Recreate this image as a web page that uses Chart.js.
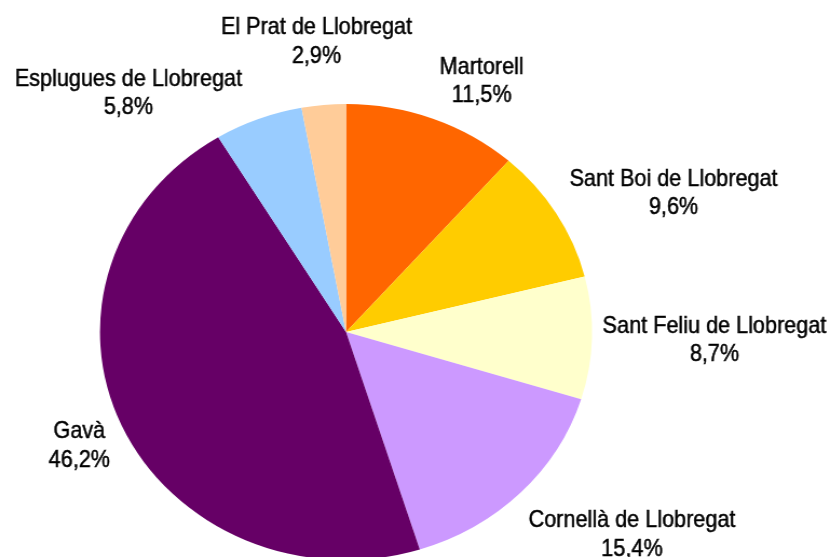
<!DOCTYPE html>
<html>
<head>
<meta charset="utf-8">
<script src="https://cdn.jsdelivr.net/npm/chart.js@4/dist/chart.umd.min.js"></script>
<style>
  html, body { margin: 0; padding: 0; background: #fff; overflow: hidden; }
  #wrap { width: 769px; height: 580px; transform: scaleX(1.0793); transform-origin: 0 0; }
</style>
</head>
<body>
<div id="wrap"><canvas id="chart" width="769" height="580"></canvas></div>
<script>
  const districts = [
    "Martorell",
    "Sant Boi de Llobregat",
    "Sant Feliu de Llobregat",
    "Cornellà de Llobregat",
    "Gavà",
    "Esplugues de Llobregat",
    "El Prat de Llobregat"
  ];
  const shares = [11.5, 9.6, 8.7, 15.4, 46.2, 5.8, 2.9];
  const sliceColors = ["#ff6600", "#ffcc00", "#ffffcc", "#cc99ff", "#660066", "#99ccff", "#ffcc99"];

  // label layout: nudges (screen px) on top of the outside-end placement
  const labelNudge = [[16, -9], [6, 5], [2, -1], [2, 12], [-4, -4], [-46, 3], [11, -34]];
  const STRETCH = 830 / 769;
  const NARROW = 0.835; // no narrow font installed, squeeze the regular one
  const GAP = 8;
  const LINE = 28.5;
  const CAP = 16.8;

  function formatShare(v) {
    return v.toFixed(1).replace(".", ",") + "%";
  }

  function drawNarrow(ctx, text, x, y) {
    ctx.save();
    ctx.translate(x, y);
    ctx.scale(NARROW, 1);
    ctx.strokeText(text, 0, 0);
    ctx.fillText(text, 0, 0);
    ctx.restore();
  }

  const outsideLabels = {
    id: "outsideLabels",
    afterDatasetsDraw(chart) {
      const ctx = chart.ctx;
      const meta = chart.getDatasetMeta(0);
      ctx.save();
      ctx.font = '24px "Liberation Sans", Arial, sans-serif';
      ctx.fillStyle = "#000";
      ctx.strokeStyle = "#000";
      ctx.lineWidth = 0.5;
      ctx.textAlign = "center";
      ctx.textBaseline = "alphabetic";
      meta.data.forEach((arc, i) => {
        const p = arc.getProps(["x", "y", "startAngle", "endAngle", "outerRadius"], true);
        const a = (p.startAngle + p.endAngle) / 2;
        const cos = Math.cos(a);
        const sin = Math.sin(a);
        const ax = p.x + (p.outerRadius + GAP) * cos;
        const ay = p.y + (p.outerRadius + GAP) * sin;
        const lines = [districts[i], formatShare(shares[i])];
        const hw = Math.max(...lines.map((t) => ctx.measureText(t).width)) * NARROW / 2;
        const hh = LINE / 2 + CAP / 2;
        const fx = Math.max(-1, Math.min(1, cos * 2));
        const fy = Math.max(-1, Math.min(1, sin * 2));
        const cx = ax + hw * fx + labelNudge[i][0] / STRETCH;
        const cy = ay + hh * fy + labelNudge[i][1];
        drawNarrow(ctx, lines[0], cx, cy - LINE / 2 + CAP / 2);
        drawNarrow(ctx, lines[1], cx, cy + LINE / 2 + CAP / 2);
      });
      ctx.restore();
    }
  };

  new Chart(document.getElementById("chart"), {
    type: "pie",
    data: {
      labels: districts,
      datasets: [
        {
          data: shares,
          backgroundColor: sliceColors,
          borderWidth: 0,
          offset: 0,
          hoverOffset: 0
        }
      ]
    },
    options: {
      responsive: false,
      animation: false,
      devicePixelRatio: 1,
      radius: 228,
      layout: {
        padding: { left: 92.6, right: 220.4, top: 104, bottom: 20 }
      },
      plugins: {
        legend: { display: false },
        tooltip: { enabled: false }
      }
    },
    plugins: [outsideLabels]
  });
</script>
</body>
</html>
